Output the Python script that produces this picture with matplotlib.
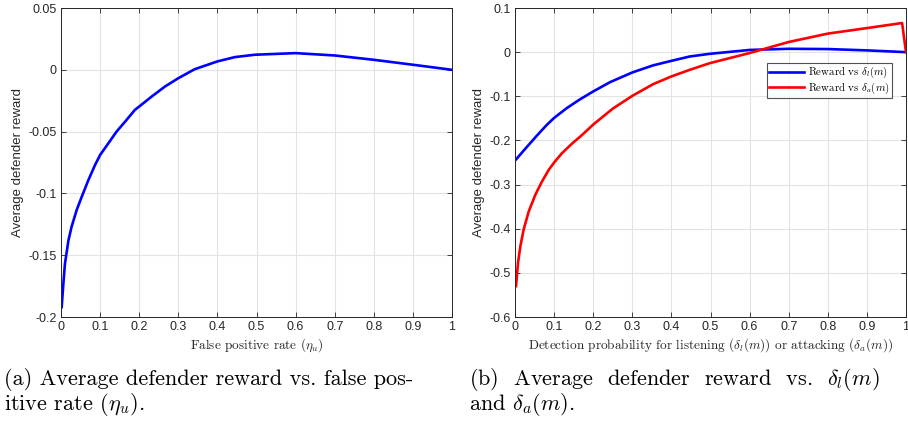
import matplotlib
matplotlib.use("Agg")
import matplotlib.pyplot as plt

# panel (a): reward vs false positive rate
fp_rate = [0.0017, 0.006, 0.010, 0.019, 0.027, 0.040, 0.053, 0.070, 0.087, 0.100,
           0.121, 0.142, 0.164, 0.189, 0.2, 0.232, 0.266, 0.3, 0.342, 0.4, 0.445,
           0.496, 0.6, 0.7, 0.8, 0.9, 1.0]
reward_fp = [-0.192, -0.173, -0.157, -0.138, -0.127, -0.1135, -0.1027, -0.0892,
             -0.077, -0.0689, -0.0595, -0.050, -0.0419, -0.0324, -0.0297, -0.0216,
             -0.0135, -0.0068, 0.0005, 0.0068, 0.0103, 0.0122, 0.0135, 0.0116,
             0.0081, 0.0041, 0.0]

# panel (b): reward vs detection probabilities
det_l = [0.0026, 0.0085, 0.030, 0.055, 0.081, 0.1, 0.132, 0.166, 0.2, 0.243, 0.3,
         0.353, 0.4, 0.447, 0.498, 0.6, 0.7, 0.8, 0.9, 1.0]
reward_l = [-0.243, -0.237, -0.215, -0.19, -0.165, -0.149, -0.127, -0.107, -0.089,
            -0.068, -0.046, -0.030, -0.0197, -0.0098, -0.0038, 0.005, 0.0076,
            0.007, 0.004, 0.0]

det_a = [0.0026, 0.0077, 0.0136, 0.022, 0.035, 0.052, 0.069, 0.086, 0.1, 0.12,
         0.146, 0.171, 0.2, 0.25, 0.3, 0.353, 0.4, 0.447, 0.498, 0.6, 0.7, 0.8,
         0.9, 0.99, 1.0]
reward_a = [-0.530, -0.477, -0.440, -0.402, -0.361, -0.323, -0.293, -0.267, -0.250,
            -0.229, -0.207, -0.188, -0.164, -0.128, -0.099, -0.0726, -0.055, -0.040,
            -0.025, -0.002, 0.023, 0.042, 0.0545, 0.066, 0.0]

x_ticks = [0, 0.1, 0.2, 0.3, 0.4, 0.5, 0.6, 0.7, 0.8, 0.9, 1]
x_tick_labels = ["0", "0.1", "0.2", "0.3", "0.4", "0.5", "0.6", "0.7", "0.8", "0.9", "1"]
y_ticks_a = [-0.2, -0.15, -0.1, -0.05, 0, 0.05]
y_tick_labels_a = ["-0.2", "-0.15", "-0.1", "-0.05", "0", "0.05"]
y_ticks_b = [-0.6, -0.5, -0.4, -0.3, -0.2, -0.1, 0, 0.1]
y_tick_labels_b = ["-0.6", "-0.5", "-0.4", "-0.3", "-0.2", "-0.1", "0", "0.1"]

plt.rcParams['font.family'] = ['Liberation Sans', 'DejaVu Sans']
plt.rcParams['mathtext.fontset'] = 'cm'

DARK = '#262626'
SERIF = 'cmr10'


def style_axes(ax, yticks, ylabels):
    ax.set_xlim(0, 1)
    ax.set_xticks(x_ticks)
    ax.set_xticklabels(x_tick_labels)
    ax.set_yticks(yticks)
    ax.set_yticklabels(ylabels)
    ax.set_ylim(yticks[0], yticks[-1])
    ax.grid(True, color='#e3e3e3', linewidth=0.8)
    ax.set_axisbelow(True)
    ax.tick_params(direction='in', top=True, right=True, length=3.5,
                   width=0.6, colors=DARK, labelsize=9, pad=3)
    for sp in ax.spines.values():
        sp.set_color(DARK)
        sp.set_linewidth(0.7)
    ax.set_ylabel("Average defender reward", fontsize=9.5, color=DARK, labelpad=3)


fig = plt.figure(figsize=(9.08, 4.28), dpi=100)
ax1 = fig.add_axes([0.0672, 0.2593, 0.4306, 0.722])
ax2 = fig.add_axes([0.5672, 0.2593, 0.4306, 0.722])

ax1.plot(fp_rate, reward_fp, color='#0000ff', linewidth=1.9)
style_axes(ax1, y_ticks_a, y_tick_labels_a)
ax1.set_xlabel(r"False positive rate ($\eta_u$)", fontfamily=SERIF,
               fontsize=9.5, color=DARK, labelpad=2)

ax2.plot(det_l, reward_l, color='#0000ff', linewidth=1.9,
         label=r"Reward vs $\delta_l(m)$")
ax2.plot(det_a, reward_a, color='#ff0000', linewidth=1.9,
         label=r"Reward vs $\delta_a(m)$")
style_axes(ax2, y_ticks_b, y_tick_labels_b)
ax2.set_xlabel(r"Detection probability for listening ($\delta_l(m)$) or attacking ($\delta_a(m)$)",
               fontfamily=SERIF, fontsize=9.5, color=DARK, labelpad=2)
leg = ax2.legend(loc='upper right', bbox_to_anchor=(0.964, 0.822),
                 prop={'family': SERIF, 'size': 7.8}, frameon=True, fancybox=False,
                 edgecolor='#262626', handlelength=3.2, borderpad=0.2,
                 labelspacing=0.05, handletextpad=0.4, borderaxespad=0)
leg.get_frame().set_linewidth(0.8)

# captions under the two panels
fig.text(0.004, 0.1, "(a) Average defender reward vs. false pos-",
         fontfamily=SERIF, fontsize=16, va='baseline')
fig.text(0.004, 0.042, r"itive rate ($\eta_u$).",
         fontfamily=SERIF, fontsize=16, va='baseline')
fig.text(0.517, 0.1, r"(b)  Average  defender  reward  vs.  $\delta_l(m)$",
         fontfamily=SERIF, fontsize=16, va='baseline')
fig.text(0.517, 0.042, r"and $\delta_a(m)$.",
         fontfamily=SERIF, fontsize=16, va='baseline')

fig.savefig("out.png", dpi=100)
